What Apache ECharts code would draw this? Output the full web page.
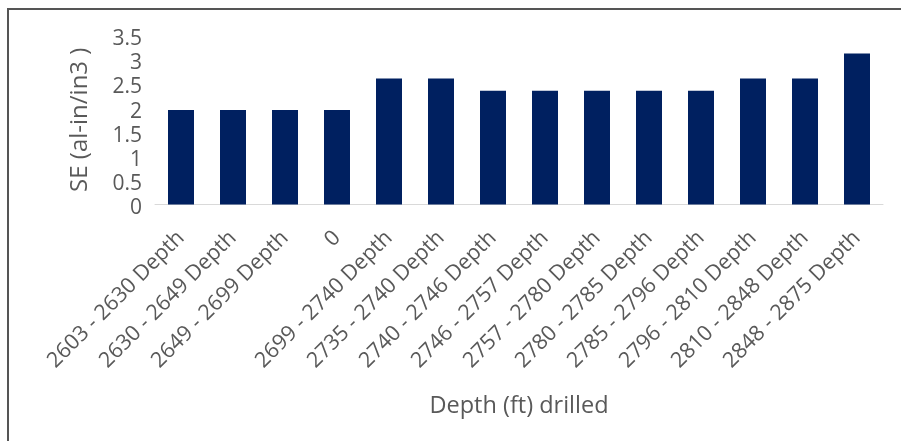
<!DOCTYPE html>
<html>
<head>
<meta charset="utf-8">
<script src="https://cdn.jsdelivr.net/npm/echarts@6/dist/echarts.min.js"></script>
<style>
  html, body { margin: 0; padding: 0; background: #ffffff; }
  #chart { position: absolute; left: 0; top: 0; width: 901px; height: 441px; }
  /* chart frame: only the top and left edges fall inside the view */
  #frame { position: absolute; left: 7px; top: 8px; width: 900px; height: 440px;
           border-left: 2px solid #555555; border-top: 2px solid #555555; box-sizing: border-box;
           pointer-events: none; }
</style>
</head>
<body>
<div id="chart"></div>
<div id="frame"></div>
<script>
// Depth intervals drilled
const categories = [
  '2603 - 2630 Depth', '2630 - 2649 Depth', '2649 - 2699 Depth', '0',
  '2699 - 2740 Depth', '2735 - 2740 Depth', '2740 - 2746 Depth', '2746 - 2757 Depth',
  '2757 - 2780 Depth', '2780 - 2785 Depth', '2785 - 2796 Depth', '2796 - 2810 Depth',
  '2810 - 2848 Depth', '2848 - 2875 Depth'
];
// SE (al-in/in3) for each interval
const seValues = [1.95, 1.95, 1.95, 1.95, 2.6, 2.6, 2.35, 2.35, 2.35, 2.35, 2.35, 2.6, 2.6, 3.12];
// y-axis ticks
const yTicks = { min: 0, max: 3.5, step: 0.5 };

const textColor = '#595959';
const font = 'Open Sans';

const chart = echarts.init(document.getElementById('chart'), null, { renderer: 'canvas' });
chart.setOption({
  animation: false,
  backgroundColor: '#ffffff',
  grid: { left: 155, right: 18, top: 35, bottom: 236.5, containLabel: false },
  xAxis: {
    type: 'category',
    data: categories,
    name: 'Depth (ft) drilled',
    nameLocation: 'middle',
    nameGap: 190,
    nameTextStyle: { color: textColor, fontFamily: font, fontSize: 23.5 },
    axisLine: { show: true, lineStyle: { color: '#d9d9d9', width: 1 } },
    axisTick: { show: false },
    axisLabel: {
      interval: 0, rotate: 45, margin: 30,
      color: textColor, fontFamily: font, fontSize: 21.5
    },
    splitLine: { show: false }
  },
  yAxis: {
    type: 'value',
    min: yTicks.min, max: yTicks.max, interval: yTicks.step,
    name: 'SE (al-in/in3 )',
    nameLocation: 'middle',
    nameGap: 63,
    nameRotate: 90,
    nameTextStyle: { color: textColor, fontFamily: font, fontSize: 24 },
    axisLine: { show: false },
    axisTick: { show: false },
    splitLine: { show: false },
    axisLabel: {
      color: textColor, fontFamily: font, fontSize: 21, margin: 13,
      verticalAlign: 'top', lineHeight: 8
    }
  },
  series: [{
    type: 'bar',
    data: seValues,
    barWidth: '50%',
    itemStyle: { color: '#002060' }
  }]
});
</script>
</body>
</html>
